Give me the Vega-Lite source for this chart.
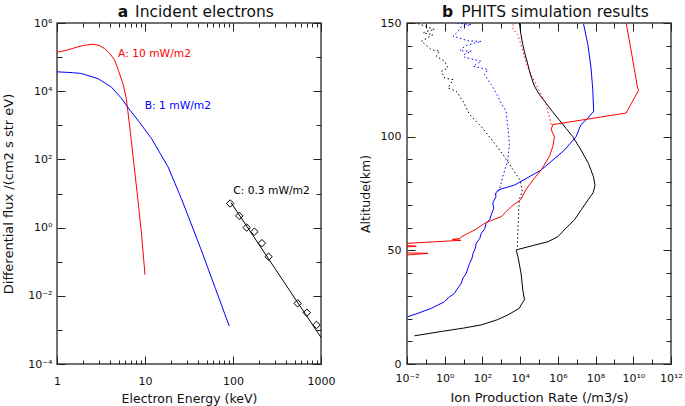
{
  "$schema": "https://vega.github.io/schema/vega-lite/v6.json",
  "background": "white",
  "padding": {"left": 1, "top": 3, "right": 0, "bottom": 0},
  "bounds": "flush",
  "spacing": 86,
  "config": {
    "font": "DejaVu Sans",
    "view": {"stroke": "#444", "strokeWidth": 1.5},
    "axis": {"grid": false, "domain": false, "tickColor": "#222", "tickWidth": 1, "labelColor": "#111", "labelFontSize": 11, "labelFont": "DejaVu Sans", "titleFont": "DejaVu Sans", "titleColor": "#111", "titleFontWeight": "normal", "labelFlush": false, "labelOverlap": false}
  },
  "datasets": {
    "spectra": [
      {"series": "A", "E": 1, "flux": 138000},
      {"series": "A", "E": 1.3, "flux": 160000},
      {"series": "A", "E": 1.73, "flux": 200000},
      {"series": "A", "E": 2.0, "flux": 220000},
      {"series": "A", "E": 2.57, "flux": 240000},
      {"series": "A", "E": 3.0, "flux": 220000},
      {"series": "A", "E": 3.47, "flux": 178000},
      {"series": "A", "E": 4.0, "flux": 126000},
      {"series": "A", "E": 4.52, "flux": 81000},
      {"series": "A", "E": 5.0, "flux": 40000},
      {"series": "A", "E": 5.62, "flux": 16600},
      {"series": "A", "E": 6.14, "flux": 6000},
      {"series": "A", "E": 6.3, "flux": 3500},
      {"series": "A", "E": 6.84, "flux": 575},
      {"series": "A", "E": 7.5, "flux": 69},
      {"series": "A", "E": 8.32, "flux": 6.3},
      {"series": "A", "E": 9.12, "flux": 0.68},
      {"series": "A", "E": 10, "flux": 0.041},
      {"series": "B", "E": 1, "flux": 37000},
      {"series": "B", "E": 1.5, "flux": 35000},
      {"series": "B", "E": 1.89, "flux": 33000},
      {"series": "B", "E": 2.92, "flux": 23400},
      {"series": "B", "E": 4.15, "flux": 13200},
      {"series": "B", "E": 5.37, "flux": 6300},
      {"series": "B", "E": 6.3, "flux": 3500},
      {"series": "B", "E": 8.5, "flux": 1300},
      {"series": "B", "E": 11.8, "flux": 417},
      {"series": "B", "E": 18.3, "flux": 60},
      {"series": "B", "E": 25.9, "flux": 7.1},
      {"series": "B", "E": 43.6, "flux": 0.22},
      {"series": "B", "E": 63, "flux": 0.0166},
      {"series": "B", "E": 90.6, "flux": 0.0013},
      {"series": "C", "E": 95, "flux": 5.4},
      {"series": "C", "E": 300, "flux": 0.063},
      {"series": "C", "E": 1000, "flux": 0.0006}
    ],
    "diamonds": [
      {"E": 93, "flux": 5.1},
      {"E": 118, "flux": 2.2},
      {"E": 143, "flux": 1.0},
      {"E": 175, "flux": 0.76},
      {"E": 213, "flux": 0.35},
      {"E": 254, "flux": 0.14},
      {"E": 543, "flux": 0.006},
      {"E": 690, "flux": 0.0032},
      {"E": 890, "flux": 0.0014}
    ],
    "labels": [
      {"series": "A", "label": "A: 10 mW/m2", "E": 4.94, "flux": 126000},
      {"series": "B", "label": "B: 1 mW/m2", "E": 9.93, "flux": 3600},
      {"series": "C", "label": "C: 0.3 mW/m2", "E": 100.5, "flux": 11.7}
    ],
    "profiles": [
      {"series": "k", "rate": 9100, "alt": 150},
      {"series": "k", "rate": 11000, "alt": 145},
      {"series": "k", "rate": 13800, "alt": 140.5},
      {"series": "k", "rate": 18600, "alt": 136},
      {"series": "k", "rate": 25700, "alt": 131.7},
      {"series": "k", "rate": 36000, "alt": 127},
      {"series": "k", "rate": 57500, "alt": 122.2},
      {"series": "k", "rate": 105000, "alt": 118.5},
      {"series": "k", "rate": 240000, "alt": 114.7},
      {"series": "k", "rate": 520000, "alt": 111},
      {"series": "k", "rate": 1200000, "alt": 107.3},
      {"series": "k", "rate": 2750000, "alt": 103.6},
      {"series": "k", "rate": 6200000, "alt": 100},
      {"series": "k", "rate": 17000000, "alt": 94.1},
      {"series": "k", "rate": 42000000, "alt": 88.2},
      {"series": "k", "rate": 78000000, "alt": 82.3},
      {"series": "k", "rate": 93000000, "alt": 78.6},
      {"series": "k", "rate": 76000000, "alt": 75.5},
      {"series": "k", "rate": 40000000, "alt": 72.2},
      {"series": "k", "rate": 18000000, "alt": 68},
      {"series": "k", "rate": 7600000, "alt": 63.4},
      {"series": "k", "rate": 2500000, "alt": 59.5},
      {"series": "k", "rate": 1000000, "alt": 56},
      {"series": "k", "rate": 300000, "alt": 53.8},
      {"series": "k", "rate": 59000, "alt": 52.3},
      {"series": "k", "rate": 6200, "alt": 50.2},
      {"series": "k", "rate": 7600, "alt": 47.2},
      {"series": "k", "rate": 11200, "alt": 39.9},
      {"series": "k", "rate": 13800, "alt": 32.6},
      {"series": "k", "rate": 17000, "alt": 28.2},
      {"series": "k", "rate": 11200, "alt": 26},
      {"series": "k", "rate": 9100, "alt": 24.5},
      {"series": "k", "rate": 2240, "alt": 21.6},
      {"series": "k", "rate": 631, "alt": 19.5},
      {"series": "k", "rate": 87, "alt": 17.2},
      {"series": "k", "rate": 10, "alt": 15.8},
      {"series": "k", "rate": 0.66, "alt": 14.3},
      {"series": "k", "rate": 0.025, "alt": 12.4},
      {"series": "kd", "rate": 0.031, "alt": 150},
      {"series": "kd", "rate": 0.29, "alt": 147.1},
      {"series": "kd", "rate": 0.105, "alt": 146.3},
      {"series": "kd", "rate": 0.071, "alt": 145.6},
      {"series": "kd", "rate": 0.24, "alt": 144.9},
      {"series": "kd", "rate": 0.058, "alt": 141.9},
      {"series": "kd", "rate": 0.195, "alt": 138.3},
      {"series": "kd", "rate": 0.54, "alt": 137.6},
      {"series": "kd", "rate": 0.355, "alt": 135.4},
      {"series": "kd", "rate": 0.98, "alt": 133.2},
      {"series": "kd", "rate": 1.48, "alt": 130.2},
      {"series": "kd", "rate": 0.66, "alt": 128.7},
      {"series": "kd", "rate": 1.0, "alt": 125.8},
      {"series": "kd", "rate": 2.75, "alt": 125.1},
      {"series": "kd", "rate": 1.48, "alt": 121.4},
      {"series": "kd", "rate": 4.1, "alt": 120},
      {"series": "kd", "rate": 9.3, "alt": 115.6},
      {"series": "kd", "rate": 21, "alt": 109.7},
      {"series": "kd", "rate": 87, "alt": 104.4},
      {"series": "kd", "rate": 437, "alt": 97.1},
      {"series": "kd", "rate": 1480, "alt": 91.2},
      {"series": "kd", "rate": 3300, "alt": 86.8},
      {"series": "kd", "rate": 10000, "alt": 80.9},
      {"series": "kd", "rate": 13000, "alt": 76},
      {"series": "kd", "rate": 8900, "alt": 72.2},
      {"series": "kd", "rate": 7900, "alt": 62},
      {"series": "kd", "rate": 7100, "alt": 51.6},
      {"series": "b", "rate": 23000000, "alt": 149.6},
      {"series": "b", "rate": 39000000, "alt": 140.5},
      {"series": "b", "rate": 57500000, "alt": 130.2},
      {"series": "b", "rate": 71000000, "alt": 120.7},
      {"series": "b", "rate": 79000000, "alt": 111.2},
      {"series": "b", "rate": 39000000, "alt": 108.2},
      {"series": "b", "rate": 17000000, "alt": 105.3},
      {"series": "b", "rate": 13800000, "alt": 103.6},
      {"series": "b", "rate": 9300000, "alt": 100},
      {"series": "b", "rate": 2240000, "alt": 94.1},
      {"series": "b", "rate": 129000, "alt": 85.3},
      {"series": "b", "rate": 5000, "alt": 78.7},
      {"series": "b", "rate": 708, "alt": 76.6},
      {"series": "b", "rate": 479, "alt": 75},
      {"series": "b", "rate": 525, "alt": 73.6},
      {"series": "b", "rate": 417, "alt": 72},
      {"series": "b", "rate": 355, "alt": 70.7},
      {"series": "b", "rate": 398, "alt": 68.5},
      {"series": "b", "rate": 295, "alt": 65.6},
      {"series": "b", "rate": 240, "alt": 63.5},
      {"series": "b", "rate": 158, "alt": 61.9},
      {"series": "b", "rate": 132, "alt": 59.5},
      {"series": "b", "rate": 87, "alt": 57.5},
      {"series": "b", "rate": 72, "alt": 55.2},
      {"series": "b", "rate": 47, "alt": 53.1},
      {"series": "b", "rate": 42, "alt": 51},
      {"series": "b", "rate": 32, "alt": 48.7},
      {"series": "b", "rate": 28, "alt": 46.5},
      {"series": "b", "rate": 21, "alt": 44.3},
      {"series": "b", "rate": 16.6, "alt": 42},
      {"series": "b", "rate": 13.8, "alt": 39.9},
      {"series": "b", "rate": 9.1, "alt": 37.6},
      {"series": "b", "rate": 7.6, "alt": 35.5},
      {"series": "b", "rate": 4.6, "alt": 33},
      {"series": "b", "rate": 3.3, "alt": 31.1},
      {"series": "b", "rate": 1.58, "alt": 29.2},
      {"series": "b", "rate": 0.98, "alt": 27.4},
      {"series": "b", "rate": 0.195, "alt": 24.5},
      {"series": "b", "rate": 0.038, "alt": 22.3},
      {"series": "b", "rate": 0.011, "alt": 20.8},
      {"series": "bd", "rate": 4, "alt": 150},
      {"series": "bd", "rate": 25.7, "alt": 149.3},
      {"series": "bd", "rate": 7.9, "alt": 148.5},
      {"series": "bd", "rate": 5, "alt": 146.3},
      {"series": "bd", "rate": 2.75, "alt": 144.2},
      {"series": "bd", "rate": 17, "alt": 142.2},
      {"series": "bd", "rate": 87, "alt": 141.9},
      {"series": "bd", "rate": 12.6, "alt": 140},
      {"series": "bd", "rate": 6.2, "alt": 137.8},
      {"series": "bd", "rate": 25.7, "alt": 137.6},
      {"series": "bd", "rate": 10, "alt": 136},
      {"series": "bd", "rate": 11.2, "alt": 134.9},
      {"series": "bd", "rate": 87, "alt": 133.2},
      {"series": "bd", "rate": 32, "alt": 131},
      {"series": "bd", "rate": 195, "alt": 129.5},
      {"series": "bd", "rate": 129, "alt": 127.3},
      {"series": "bd", "rate": 295, "alt": 122.9},
      {"series": "bd", "rate": 537, "alt": 119.2},
      {"series": "bd", "rate": 977, "alt": 114.8},
      {"series": "bd", "rate": 1800, "alt": 111.2},
      {"series": "bd", "rate": 2240, "alt": 104.4},
      {"series": "bd", "rate": 2700, "alt": 97.1},
      {"series": "bd", "rate": 2240, "alt": 89.7},
      {"series": "bd", "rate": 1200, "alt": 82.4},
      {"series": "bd", "rate": 794, "alt": 76.6},
      {"series": "bd", "rate": 501, "alt": 74.5},
      {"series": "r", "rate": 4200000000, "alt": 150},
      {"series": "r", "rate": 7600000000, "alt": 138.1},
      {"series": "r", "rate": 11200000000, "alt": 130},
      {"series": "r", "rate": 17000000000, "alt": 121.3},
      {"series": "r", "rate": 19500000000, "alt": 120.6},
      {"series": "r", "rate": 4200000000, "alt": 110.4},
      {"series": "r", "rate": 540000, "alt": 105.3},
      {"series": "r", "rate": 440000, "alt": 103.1},
      {"series": "r", "rate": 660000, "alt": 100},
      {"series": "r", "rate": 540000, "alt": 95.6},
      {"series": "r", "rate": 350000, "alt": 91.2},
      {"series": "r", "rate": 129000, "alt": 85.3},
      {"series": "r", "rate": 47000, "alt": 80.9},
      {"series": "r", "rate": 20000, "alt": 76.6},
      {"series": "r", "rate": 10500, "alt": 72.2},
      {"series": "r", "rate": 3300, "alt": 69.2},
      {"series": "r", "rate": 1580, "alt": 66.5},
      {"series": "r", "rate": 977, "alt": 64.8},
      {"series": "r", "rate": 275, "alt": 63},
      {"series": "r", "rate": 129, "alt": 61.9},
      {"series": "r", "rate": 50, "alt": 59.5},
      {"series": "r", "rate": 21, "alt": 57.8},
      {"series": "r", "rate": 7.9, "alt": 56},
      {"series": "r", "rate": 6.2, "alt": 55.2},
      {"series": "r", "rate": 2.5, "alt": 54.8},
      {"series": "r", "rate": 7.1, "alt": 54.4},
      {"series": "r", "rate": 0.001, "alt": 52.6},
      {"series": "r", "rate": 0.031, "alt": 51.8},
      {"series": "r", "rate": 0.001, "alt": 51.0},
      {"series": "r", "rate": 0.001, "alt": 49.0},
      {"series": "r", "rate": 0.13, "alt": 48.7},
      {"series": "r", "rate": 0.001, "alt": 47.3},
      {"series": "rd", "rate": 3500, "alt": 150},
      {"series": "rd", "rate": 4800, "alt": 148.5},
      {"series": "rd", "rate": 4000, "alt": 147.5},
      {"series": "rd", "rate": 7600, "alt": 144.9},
      {"series": "rd", "rate": 13800, "alt": 137.6},
      {"series": "rd", "rate": 25700, "alt": 130.2},
      {"series": "rd", "rate": 57500, "alt": 124.4},
      {"series": "rd", "rate": 105000, "alt": 120},
      {"series": "rd", "rate": 240000, "alt": 114.1},
      {"series": "rd", "rate": 350000, "alt": 109},
      {"series": "rd", "rate": 440000, "alt": 105.3}
    ]
  },
  "hconcat": [
    {
      "width": 264,
      "height": 341,
      "resolve": {"axis": {"x": "independent", "y": "independent"}},
      "layer": [
        {
          "data": {"name": "spectra"},
          "transform": [{"filter": "datum.series === 'A'"}],
          "mark": {"type": "line", "strokeWidth": 1},
          "encoding": {
            "x": {"field": "E", "type": "quantitative", "scale": {"type": "log", "domain": [1, 1000], "nice": false},
              "axis": {"orient": "bottom", "values": [1, 10, 100, 1000], "format": "d", "tickSize": -8, "labelPadding": 19, "title": "Electron Energy (keV)", "titleFontSize": 12.5, "titlePadding": 6.5, "minExtent": 22, "maxExtent": 22}},
            "y": {"field": "flux", "type": "quantitative", "scale": {"type": "log", "domain": [0.0001, 1000000], "nice": false},
              "axis": {"orient": "left", "values": [0.0001, 0.01, 1, 100, 10000, 1000000], "tickSize": -8, "labelPadding": 13, "labelExpr": "'10' + replace(replace(replace(replace(replace(replace(replace(replace(replace(replace(replace('' + round(log(datum.value) / LN10), '-', '⁻'), '0', '⁰'), '1', '¹'), '2', '²'), '3', '³'), '4', '⁴'), '5', '⁵'), '6', '⁶'), '7', '⁷'), '8', '⁸'), '9', '⁹')", "title": "Differential flux /(cm2 s str eV)", "titleFontSize": 13, "titlePadding": 12, "minExtent": 30, "maxExtent": 30}},
            "color": {"field": "series", "type": "nominal", "scale": {"domain": ["A", "B", "C"], "range": ["#ff0000", "#0000ff", "#000000"]}, "legend": null}
          }
        },
        {
          "data": {"name": "spectra"},
          "transform": [{"filter": "datum.series === 'B'"}],
          "mark": {"type": "line", "strokeWidth": 1},
          "encoding": {
            "x": {"field": "E", "type": "quantitative", "scale": {"type": "log", "domain": [1, 1000], "nice": false},
              "axis": {"orient": "bottom", "values": [2, 3, 4, 5, 6, 7, 8, 9, 20, 30, 40, 50, 60, 70, 80, 90, 200, 300, 400, 500, 600, 700, 800, 900], "tickSize": -4, "labels": false, "title": null, "minExtent": 0, "maxExtent": 0}},
            "y": {"field": "flux", "type": "quantitative", "scale": {"type": "log", "domain": [0.0001, 1000000], "nice": false},
              "axis": {"orient": "left", "values": [0.001, 0.1, 10, 1000, 100000], "tickSize": -5, "labels": false, "title": null, "minExtent": 0, "maxExtent": 0}},
            "color": {"field": "series", "type": "nominal", "scale": {"domain": ["A", "B", "C"], "range": ["#ff0000", "#0000ff", "#000000"]}, "legend": null}
          }
        },
        {
          "data": {"name": "spectra"},
          "transform": [{"filter": "datum.series === 'C'"}],
          "mark": {"type": "line", "strokeWidth": 1},
          "encoding": {
            "x": {"field": "E", "type": "quantitative", "scale": {"type": "log", "domain": [1, 1000], "nice": false},
              "axis": {"orient": "top", "values": [1, 10, 100, 1000], "tickSize": -8, "labels": false, "title": "a", "titleFontWeight": "bold", "titleFontSize": 15.5, "titleX": 65.5, "titleY": -7, "titleAlign": "center", "titleBaseline": "alphabetic", "minExtent": 0, "maxExtent": 0}},
            "y": {"field": "flux", "type": "quantitative", "scale": {"type": "log", "domain": [0.0001, 1000000], "nice": false},
              "axis": {"orient": "right", "values": [0.0001, 0.01, 1, 100, 10000, 1000000], "tickSize": -8, "labels": false, "title": null, "minExtent": 0, "maxExtent": 0}},
            "color": {"field": "series", "type": "nominal", "scale": {"domain": ["A", "B", "C"], "range": ["#ff0000", "#0000ff", "#000000"]}, "legend": null}
          }
        },
        {
          "data": {"name": "diamonds"},
          "mark": {"type": "point", "shape": "diamond", "filled": false, "color": "#000000", "size": 55, "strokeWidth": 1, "opacity": 1},
          "encoding": {
            "x": {"field": "E", "type": "quantitative", "scale": {"type": "log", "domain": [1, 1000], "nice": false},
              "axis": {"orient": "top", "values": [2, 3, 4, 5, 6, 7, 8, 9, 20, 30, 40, 50, 60, 70, 80, 90, 200, 300, 400, 500, 600, 700, 800, 900], "tickSize": -4, "labels": false, "title": "Incident electrons", "titleFontWeight": "normal", "titleFontSize": 15.5, "titleX": 147, "titleY": -7, "titleAlign": "center", "titleBaseline": "alphabetic", "minExtent": 0, "maxExtent": 0}},
            "y": {"field": "flux", "type": "quantitative", "scale": {"type": "log", "domain": [0.0001, 1000000], "nice": false},
              "axis": {"orient": "right", "values": [0.001, 0.1, 10, 1000, 100000], "tickSize": -5, "labels": false, "title": null, "minExtent": 0, "maxExtent": 0}}
          }
        },
        {
          "data": {"name": "labels"},
          "mark": {"type": "text", "align": "left", "baseline": "middle", "fontSize": 10.7},
          "encoding": {
            "x": {"field": "E", "type": "quantitative", "scale": {"type": "log", "domain": [1, 1000], "nice": false}, "axis": null},
            "y": {"field": "flux", "type": "quantitative", "scale": {"type": "log", "domain": [0.0001, 1000000], "nice": false}, "axis": null},
            "text": {"field": "label"},
            "color": {"field": "series", "type": "nominal", "scale": {"domain": ["A", "B", "C"], "range": ["#ff0000", "#0000ff", "#000000"]}, "legend": null}
          }
        }
      ]
    },
    {
      "width": 264,
      "height": 341,
      "data": {"name": "profiles"},
      "resolve": {"axis": {"x": "independent", "y": "independent"}},
      "layer": [
        {
          "transform": [{"filter": "datum.series === 'k'"}],
          "mark": {"type": "line", "strokeWidth": 1, "color": "#000000", "clip": true},
          "encoding": {
            "x": {"field": "rate", "type": "quantitative", "scale": {"type": "log", "domain": [0.01, 1000000000000], "nice": false},
              "axis": {"orient": "bottom", "values": [0.01, 1, 100, 10000, 1000000, 100000000, 10000000000, 1000000000000], "tickSize": -8, "labelPadding": 16.5, "labelExpr": "'10' + replace(replace(replace(replace(replace(replace(replace(replace(replace(replace(replace('' + round(log(datum.value) / LN10), '-', '⁻'), '0', '⁰'), '1', '¹'), '2', '²'), '3', '³'), '4', '⁴'), '5', '⁵'), '6', '⁶'), '7', '⁷'), '8', '⁸'), '9', '⁹')", "title": "Ion Production Rate (/m3/s)", "titleFontSize": 13, "titlePadding": 5.5, "minExtent": 22, "maxExtent": 22}},
            "y": {"field": "alt", "type": "quantitative", "scale": {"domain": [0, 150], "nice": false, "zero": false},
              "axis": {"orient": "left", "values": [0, 50, 100, 150], "tickSize": -8, "labelPadding": 14, "title": "Altitude(km)", "titleFontSize": 12.5, "titlePadding": 6.5, "minExtent": 28, "maxExtent": 28}},
            "order": {"field": "alt", "type": "quantitative"}
          }
        },
        {
          "transform": [{"filter": "datum.series === 'kd'"}],
          "mark": {"type": "line", "strokeWidth": 1, "color": "#000000", "strokeDash": [1.5, 2.5], "clip": true},
          "encoding": {
            "x": {"field": "rate", "type": "quantitative", "scale": {"type": "log", "domain": [0.01, 1000000000000], "nice": false},
              "axis": {"orient": "bottom", "values": [0.1, 10, 1000, 100000, 10000000, 1000000000, 100000000000], "tickSize": -5, "labels": false, "title": null, "minExtent": 0, "maxExtent": 0}},
            "y": {"field": "alt", "type": "quantitative", "scale": {"domain": [0, 150], "nice": false, "zero": false},
              "axis": {"orient": "left", "values": [10, 20, 30, 40, 60, 70, 80, 90, 110, 120, 130, 140], "tickSize": -5, "labels": false, "title": null, "minExtent": 0, "maxExtent": 0}},
            "order": {"field": "alt", "type": "quantitative"}
          }
        },
        {
          "transform": [{"filter": "datum.series === 'b'"}],
          "mark": {"type": "line", "strokeWidth": 1, "color": "#0000ff", "clip": true},
          "encoding": {
            "x": {"field": "rate", "type": "quantitative", "scale": {"type": "log", "domain": [0.01, 1000000000000], "nice": false},
              "axis": {"orient": "top", "values": [0.01, 1, 100, 10000, 1000000, 100000000, 10000000000, 1000000000000], "tickSize": -8, "labels": false, "title": "b", "titleFontWeight": "bold", "titleFontSize": 15.5, "titleX": 40, "titleY": -7, "titleAlign": "center", "titleBaseline": "alphabetic", "minExtent": 0, "maxExtent": 0}},
            "y": {"field": "alt", "type": "quantitative", "scale": {"domain": [0, 150], "nice": false, "zero": false},
              "axis": {"orient": "right", "values": [0, 50, 100, 150], "tickSize": -8, "labels": false, "title": null, "minExtent": 0, "maxExtent": 0}},
            "order": {"field": "alt", "type": "quantitative"}
          }
        },
        {
          "transform": [{"filter": "datum.series === 'bd'"}],
          "mark": {"type": "line", "strokeWidth": 1, "color": "#0000ff", "strokeDash": [1.5, 2.5], "clip": true},
          "encoding": {
            "x": {"field": "rate", "type": "quantitative", "scale": {"type": "log", "domain": [0.01, 1000000000000], "nice": false},
              "axis": {"orient": "top", "values": [0.1, 10, 1000, 100000, 10000000, 1000000000, 100000000000], "tickSize": -5, "labels": false, "title": "PHITS simulation results", "titleFontWeight": "normal", "titleFontSize": 15.5, "titleX": 147.5, "titleY": -7, "titleAlign": "center", "titleBaseline": "alphabetic", "minExtent": 0, "maxExtent": 0}},
            "y": {"field": "alt", "type": "quantitative", "scale": {"domain": [0, 150], "nice": false, "zero": false},
              "axis": {"orient": "right", "values": [10, 20, 30, 40, 60, 70, 80, 90, 110, 120, 130, 140], "tickSize": -5, "labels": false, "title": null, "minExtent": 0, "maxExtent": 0}},
            "order": {"field": "alt", "type": "quantitative"}
          }
        },
        {
          "transform": [{"filter": "datum.series === 'r'"}],
          "mark": {"type": "line", "strokeWidth": 1, "color": "#ff0000", "clip": true},
          "encoding": {
            "x": {"field": "rate", "type": "quantitative", "scale": {"type": "log", "domain": [0.01, 1000000000000], "nice": false}, "axis": null},
            "y": {"field": "alt", "type": "quantitative", "scale": {"domain": [0, 150], "nice": false, "zero": false}, "axis": null},
            "order": {"field": "alt", "type": "quantitative"}
          }
        },
        {
          "transform": [{"filter": "datum.series === 'rd'"}],
          "mark": {"type": "line", "strokeWidth": 1, "color": "#ff0000", "strokeDash": [1.5, 2.5], "clip": true},
          "encoding": {
            "x": {"field": "rate", "type": "quantitative", "scale": {"type": "log", "domain": [0.01, 1000000000000], "nice": false}, "axis": null},
            "y": {"field": "alt", "type": "quantitative", "scale": {"domain": [0, 150], "nice": false, "zero": false}, "axis": null},
            "order": {"field": "alt", "type": "quantitative"}
          }
        }
      ]
    }
  ]
}
